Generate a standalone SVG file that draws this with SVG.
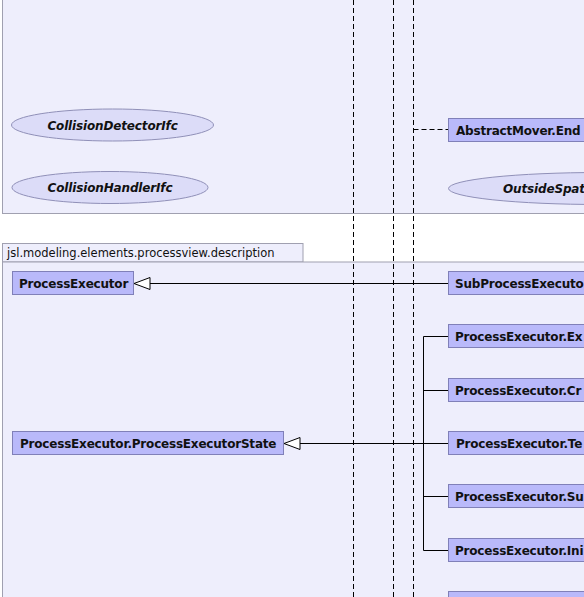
<svg xmlns="http://www.w3.org/2000/svg" width="584" height="597" viewBox="0 0 584 597">
<style>
.pkg{fill:#eeeefc;stroke:#a0a0b0;stroke-width:1}
.node{fill:#b9b9fa;stroke:#8080b8;stroke-width:1}
.iface{fill:#dcdcf8;stroke:#9090b8;stroke-width:1}
.nt{font-family:"DejaVu Sans",sans-serif;font-weight:bold;font-size:12px;letter-spacing:-0.2px;fill:#111}
.it{font-family:"DejaVu Sans",sans-serif;font-weight:bold;font-style:italic;font-size:12px;letter-spacing:-0.15px;fill:#111;text-anchor:middle}
.pt{font-family:"DejaVu Sans",sans-serif;font-size:11.5px;fill:#111}
.dash{stroke:#000;stroke-width:1;stroke-dasharray:5,3;fill:none}
.solid{stroke:#000;stroke-width:1;fill:none}
</style>
<defs>
<marker id="gen" markerWidth="18" markerHeight="14" refX="17" refY="7" orient="auto" markerUnits="userSpaceOnUse">
<path d="M17,7 L1,1 L1,13 Z" fill="#fff" stroke="#000" stroke-width="1"/>
</marker>
</defs>
<rect width="584" height="597" fill="#fff"/>
<g id="pkg-top">
<rect class="pkg" x="2.5" y="-10" width="600" height="223.5"/>
</g>
<g id="pkg-desc">
<rect class="pkg" x="2.5" y="243.5" width="300.5" height="18.5"/>
<rect class="pkg" x="2.5" y="262" width="600" height="350"/>
<text class="pt" x="7" y="257">jsl.modeling.elements.processview.description</text>
</g>
<g id="connectors">
<line class="dash" x1="353.5" y1="0" x2="353.5" y2="597"/>
<line class="dash" x1="393.5" y1="0" x2="393.5" y2="597"/>
<line class="dash" x1="413.5" y1="0" x2="413.5" y2="597"/>
<line class="dash" x1="413.5" y1="129.5" x2="448" y2="129.5"/>
<line class="solid" x1="448" y1="283.5" x2="134" y2="283.5" marker-end="url(#gen)"/>
<line class="solid" x1="448" y1="443.5" x2="284" y2="443.5" marker-end="url(#gen)"/>
<path class="solid" d="M448,336.5 H423.5 V550.5 H448 M423.5,390.5 H448 M423.5,496.5 H448"/>
</g>
<g id="CollisionDetectorIfc">
<ellipse class="iface" cx="112.5" cy="125" rx="101" ry="16"/>
<text class="it" x="112.5" y="129.5">CollisionDetectorIfc</text>
</g>
<g id="CollisionHandlerIfc">
<ellipse class="iface" cx="110" cy="187.5" rx="98" ry="16"/>
<text class="it" x="110" y="192">CollisionHandlerIfc</text>
</g>
<g id="OutsideSpat">
<ellipse class="iface" cx="600" cy="188.5" rx="151.5" ry="16"/>
<text class="it" x="503" y="193" style="text-anchor:start">OutsideSpat</text>
</g>
<g id="AbstractMover.End">
<rect class="node" x="448.5" y="118.5" width="150" height="23"/>
<text class="nt" x="456" y="134.5">AbstractMover.End</text>
</g>
<g id="ProcessExecutor">
<rect class="node" x="12.5" y="271.5" width="121" height="23"/>
<text class="nt" x="19" y="287.5">ProcessExecutor</text>
</g>
<g id="ProcessExecutor.ProcessExecutorState">
<rect class="node" x="12.5" y="431.5" width="271" height="23"/>
<text class="nt" x="20" y="447.5">ProcessExecutor.ProcessExecutorState</text>
</g>
<g id="SubProcessExecutor">
<rect class="node" x="448.5" y="271.5" width="150" height="23"/>
<text class="nt" x="455" y="287.5">SubProcessExecuto</text>
</g>
<g id="ProcessExecutor.Ex">
<rect class="node" x="448.5" y="324.5" width="150" height="23"/>
<text class="nt" x="455" y="340.5">ProcessExecutor.Ex</text>
</g>
<g id="ProcessExecutor.Cr">
<rect class="node" x="448.5" y="378.5" width="150" height="23"/>
<text class="nt" x="455" y="394.5">ProcessExecutor.Cr</text>
</g>
<g id="ProcessExecutor.Te">
<rect class="node" x="448.5" y="431.5" width="150" height="23"/>
<text class="nt" x="456" y="447.5">ProcessExecutor.Te</text>
</g>
<g id="ProcessExecutor.Su">
<rect class="node" x="448.5" y="484.5" width="150" height="23"/>
<text class="nt" x="455" y="500.5">ProcessExecutor.Su</text>
</g>
<g id="ProcessExecutor.Ini">
<rect class="node" x="448.5" y="538.5" width="150" height="23"/>
<text class="nt" x="455" y="554.5">ProcessExecutor.Ini</text>
</g>
<g id="node-bottom">
<rect class="node" x="448.5" y="591.5" width="150" height="23"/>
</g>
</svg>
